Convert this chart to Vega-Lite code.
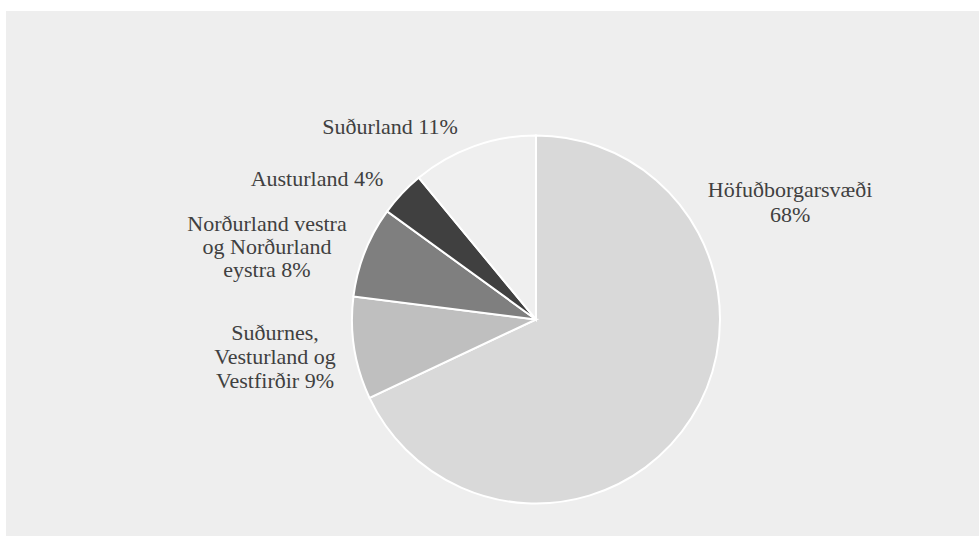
{
  "$schema": "https://vega.github.io/schema/vega-lite/v6.json",
  "width": 979,
  "height": 536,
  "autosize": {"type": "fit", "contains": "padding"},
  "padding": {"left": 6, "top": 11, "right": 0, "bottom": 0},
  "background": "#ffffff",
  "config": {"view": {"stroke": null, "fill": "#eeeeee"}},
  "data": {
    "values": [
      {"rank": 1, "region": "Höfuðborgarsvæði", "share": 68, "label": "Höfuðborgarsvæði\n68%"},
      {"rank": 2, "region": "Suðurnes, Vesturland og Vestfirðir", "share": 9, "label": "Suðurnes,\nVesturland og\nVestfirðir 9%"},
      {"rank": 3, "region": "Norðurland vestra og Norðurland eystra", "share": 8, "label": "Norðurland vestra\nog Norðurland\neystra 8%"},
      {"rank": 4, "region": "Austurland", "share": 4, "label": "Austurland 4%"},
      {"rank": 5, "region": "Suðurland", "share": 11, "label": "Suðurland 11%"}
    ]
  },
  "layer": [
    {
      "mark": {"type": "arc", "outerRadius": 184, "stroke": "#ffffff", "strokeWidth": 2},
      "encoding": {
        "x": {"datum": 54.47, "type": "quantitative", "scale": {"domain": [0, 100], "nice": false, "zero": false}, "axis": null},
        "y": {"datum": 41.24, "type": "quantitative", "scale": {"domain": [0, 100], "nice": false, "zero": false}, "axis": null},
        "theta": {"field": "share", "type": "quantitative", "stack": true},
        "order": {"field": "rank", "type": "quantitative"},
        "color": {
          "field": "region", "type": "nominal", "legend": null,
          "scale": {
            "domain": ["Höfuðborgarsvæði", "Suðurnes, Vesturland og Vestfirðir", "Norðurland vestra og Norðurland eystra", "Austurland", "Suðurland"],
            "range": ["#d9d9d9", "#bfbfbf", "#7f7f7f", "#404040", "#efefef"]
          }
        }
      }
    },
    {
      "transform": [{"filter": "datum.rank == 1"}],
      "mark": {"type": "text", "font": "Liberation Serif", "fontSize": 22, "color": "#404040", "align": "center", "baseline": "middle", "lineBreak": "\n", "lineHeight": 25},
      "encoding": {"x": {"datum": 80.58, "type": "quantitative"}, "y": {"datum": 65.9, "type": "quantitative"}, "text": {"field": "label"}}
    },
    {
      "transform": [{"filter": "datum.rank == 2"}],
      "mark": {"type": "text", "font": "Liberation Serif", "fontSize": 22, "color": "#404040", "align": "center", "baseline": "middle", "lineBreak": "\n", "lineHeight": 24},
      "encoding": {"x": {"datum": 27.65, "type": "quantitative"}, "y": {"datum": 38.67, "type": "quantitative"}, "text": {"field": "label"}}
    },
    {
      "transform": [{"filter": "datum.rank == 3"}],
      "mark": {"type": "text", "font": "Liberation Serif", "fontSize": 22, "color": "#404040", "align": "center", "baseline": "middle", "lineBreak": "\n", "lineHeight": 23},
      "encoding": {"x": {"datum": 26.82, "type": "quantitative"}, "y": {"datum": 59.52, "type": "quantitative"}, "text": {"field": "label"}}
    },
    {
      "transform": [{"filter": "datum.rank == 4"}],
      "mark": {"type": "text", "font": "Liberation Serif", "fontSize": 22, "color": "#404040", "align": "center", "baseline": "middle", "lineBreak": "\n", "lineHeight": 23},
      "encoding": {"x": {"datum": 31.96, "type": "quantitative"}, "y": {"datum": 68.0, "type": "quantitative"}, "text": {"field": "label"}}
    },
    {
      "transform": [{"filter": "datum.rank == 5"}],
      "mark": {"type": "text", "font": "Liberation Serif", "fontSize": 22, "color": "#404040", "align": "center", "baseline": "middle", "lineBreak": "\n", "lineHeight": 23},
      "encoding": {"x": {"datum": 39.47, "type": "quantitative"}, "y": {"datum": 77.81, "type": "quantitative"}, "text": {"field": "label"}}
    }
  ]
}
